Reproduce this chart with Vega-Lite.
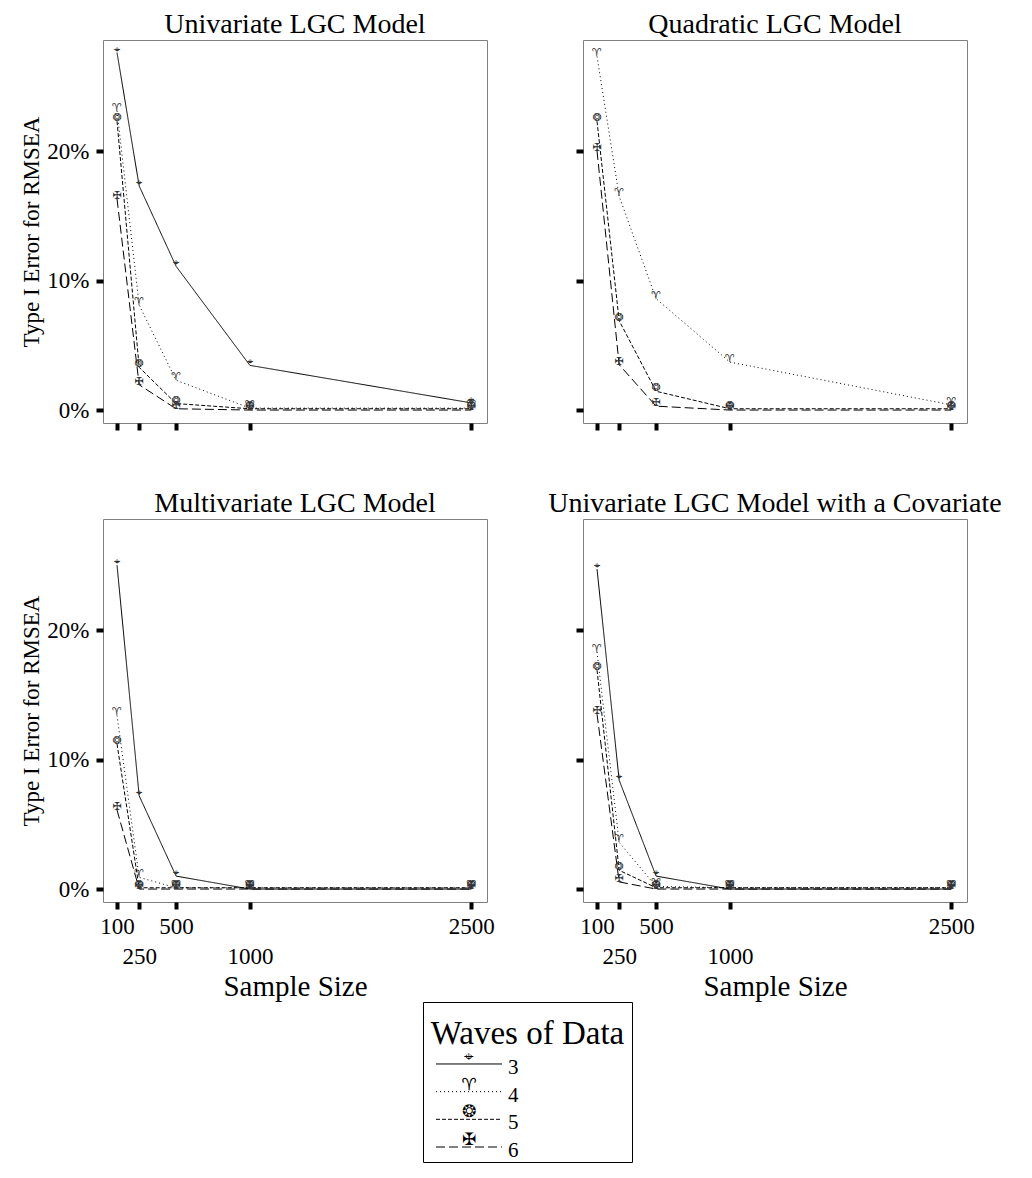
{
  "$schema": "https://vega.github.io/schema/vega-lite/v6.json",
  "autosize": {"type": "pad"},
  "padding": {"left": 20, "top": 10, "right": 2, "bottom": 2},
  "background": "white",
  "config": {
    "font": "Liberation Serif",
    "view": {"stroke": "#7f7f7f", "strokeWidth": 1},
    "axis": {
      "grid": false, "domain": false, "tickColor": "black", "tickWidth": 4, "tickSize": 7,
      "labelFont": "Liberation Serif", "labelFontSize": 23, "labelColor": "black",
      "titleFont": "Liberation Serif", "titleFontSize": 23, "titleFontWeight": "normal", "titleColor": "black",
      "labelOverlap": false, "labelFlush": false
    },
    "title": {"font": "Liberation Serif", "fontSize": 28, "fontWeight": "normal", "color": "black", "offset": 1, "anchor": "middle", "frame": "group", "baseline": "alphabetic"}
  },
  "datasets": {
    "sim": [
      {"model": "Univariate LGC Model", "wave": "3", "n": 100, "rate": 27.6},
      {"model": "Univariate LGC Model", "wave": "3", "n": 250, "rate": 17.3},
      {"model": "Univariate LGC Model", "wave": "3", "n": 500, "rate": 11.1},
      {"model": "Univariate LGC Model", "wave": "3", "n": 1000, "rate": 3.45},
      {"model": "Univariate LGC Model", "wave": "3", "n": 2500, "rate": 0.55},
      {"model": "Univariate LGC Model", "wave": "4", "n": 100, "rate": 23.1},
      {"model": "Univariate LGC Model", "wave": "4", "n": 250, "rate": 8.1},
      {"model": "Univariate LGC Model", "wave": "4", "n": 500, "rate": 2.3},
      {"model": "Univariate LGC Model", "wave": "4", "n": 1000, "rate": 0.15},
      {"model": "Univariate LGC Model", "wave": "4", "n": 2500, "rate": 0.15},
      {"model": "Univariate LGC Model", "wave": "5", "n": 100, "rate": 22.3},
      {"model": "Univariate LGC Model", "wave": "5", "n": 250, "rate": 3.3},
      {"model": "Univariate LGC Model", "wave": "5", "n": 500, "rate": 0.5},
      {"model": "Univariate LGC Model", "wave": "5", "n": 1000, "rate": 0.1},
      {"model": "Univariate LGC Model", "wave": "5", "n": 2500, "rate": 0.1},
      {"model": "Univariate LGC Model", "wave": "6", "n": 100, "rate": 16.3},
      {"model": "Univariate LGC Model", "wave": "6", "n": 250, "rate": 1.95},
      {"model": "Univariate LGC Model", "wave": "6", "n": 500, "rate": 0.1},
      {"model": "Univariate LGC Model", "wave": "6", "n": 1000, "rate": 0.0},
      {"model": "Univariate LGC Model", "wave": "6", "n": 2500, "rate": 0.0},
      {"model": "Quadratic LGC Model", "wave": "4", "n": 100, "rate": 27.3},
      {"model": "Quadratic LGC Model", "wave": "4", "n": 250, "rate": 16.5},
      {"model": "Quadratic LGC Model", "wave": "4", "n": 500, "rate": 8.6},
      {"model": "Quadratic LGC Model", "wave": "4", "n": 1000, "rate": 3.7},
      {"model": "Quadratic LGC Model", "wave": "4", "n": 2500, "rate": 0.4},
      {"model": "Quadratic LGC Model", "wave": "5", "n": 100, "rate": 22.3},
      {"model": "Quadratic LGC Model", "wave": "5", "n": 250, "rate": 6.9},
      {"model": "Quadratic LGC Model", "wave": "5", "n": 500, "rate": 1.45},
      {"model": "Quadratic LGC Model", "wave": "5", "n": 1000, "rate": 0.1},
      {"model": "Quadratic LGC Model", "wave": "5", "n": 2500, "rate": 0.1},
      {"model": "Quadratic LGC Model", "wave": "6", "n": 100, "rate": 20.0},
      {"model": "Quadratic LGC Model", "wave": "6", "n": 250, "rate": 3.5},
      {"model": "Quadratic LGC Model", "wave": "6", "n": 500, "rate": 0.3},
      {"model": "Quadratic LGC Model", "wave": "6", "n": 1000, "rate": 0.0},
      {"model": "Quadratic LGC Model", "wave": "6", "n": 2500, "rate": 0.0},
      {"model": "Multivariate LGC Model", "wave": "3", "n": 100, "rate": 25.0},
      {"model": "Multivariate LGC Model", "wave": "3", "n": 250, "rate": 7.2},
      {"model": "Multivariate LGC Model", "wave": "3", "n": 500, "rate": 1.0},
      {"model": "Multivariate LGC Model", "wave": "3", "n": 1000, "rate": 0.0},
      {"model": "Multivariate LGC Model", "wave": "3", "n": 2500, "rate": 0.0},
      {"model": "Multivariate LGC Model", "wave": "4", "n": 100, "rate": 13.4},
      {"model": "Multivariate LGC Model", "wave": "4", "n": 250, "rate": 0.9},
      {"model": "Multivariate LGC Model", "wave": "4", "n": 500, "rate": 0.1},
      {"model": "Multivariate LGC Model", "wave": "4", "n": 1000, "rate": 0.1},
      {"model": "Multivariate LGC Model", "wave": "4", "n": 2500, "rate": 0.1},
      {"model": "Multivariate LGC Model", "wave": "5", "n": 100, "rate": 11.2},
      {"model": "Multivariate LGC Model", "wave": "5", "n": 250, "rate": 0.1},
      {"model": "Multivariate LGC Model", "wave": "5", "n": 500, "rate": 0.1},
      {"model": "Multivariate LGC Model", "wave": "5", "n": 1000, "rate": 0.1},
      {"model": "Multivariate LGC Model", "wave": "5", "n": 2500, "rate": 0.1},
      {"model": "Multivariate LGC Model", "wave": "6", "n": 100, "rate": 6.1},
      {"model": "Multivariate LGC Model", "wave": "6", "n": 250, "rate": 0.0},
      {"model": "Multivariate LGC Model", "wave": "6", "n": 500, "rate": 0.0},
      {"model": "Multivariate LGC Model", "wave": "6", "n": 1000, "rate": 0.0},
      {"model": "Multivariate LGC Model", "wave": "6", "n": 2500, "rate": 0.0},
      {"model": "Univariate LGC Model with a Covariate", "wave": "3", "n": 100, "rate": 24.7},
      {"model": "Univariate LGC Model with a Covariate", "wave": "3", "n": 250, "rate": 8.4},
      {"model": "Univariate LGC Model with a Covariate", "wave": "3", "n": 500, "rate": 1.0},
      {"model": "Univariate LGC Model with a Covariate", "wave": "3", "n": 1000, "rate": 0.0},
      {"model": "Univariate LGC Model with a Covariate", "wave": "3", "n": 2500, "rate": 0.0},
      {"model": "Univariate LGC Model with a Covariate", "wave": "4", "n": 100, "rate": 18.3},
      {"model": "Univariate LGC Model with a Covariate", "wave": "4", "n": 250, "rate": 3.6},
      {"model": "Univariate LGC Model with a Covariate", "wave": "4", "n": 500, "rate": 0.2},
      {"model": "Univariate LGC Model with a Covariate", "wave": "4", "n": 1000, "rate": 0.1},
      {"model": "Univariate LGC Model with a Covariate", "wave": "4", "n": 2500, "rate": 0.1},
      {"model": "Univariate LGC Model with a Covariate", "wave": "5", "n": 100, "rate": 16.9},
      {"model": "Univariate LGC Model with a Covariate", "wave": "5", "n": 250, "rate": 1.45},
      {"model": "Univariate LGC Model with a Covariate", "wave": "5", "n": 500, "rate": 0.1},
      {"model": "Univariate LGC Model with a Covariate", "wave": "5", "n": 1000, "rate": 0.1},
      {"model": "Univariate LGC Model with a Covariate", "wave": "5", "n": 2500, "rate": 0.1},
      {"model": "Univariate LGC Model with a Covariate", "wave": "6", "n": 100, "rate": 13.5},
      {"model": "Univariate LGC Model with a Covariate", "wave": "6", "n": 250, "rate": 0.55},
      {"model": "Univariate LGC Model with a Covariate", "wave": "6", "n": 500, "rate": 0.0},
      {"model": "Univariate LGC Model with a Covariate", "wave": "6", "n": 1000, "rate": 0.0},
      {"model": "Univariate LGC Model with a Covariate", "wave": "6", "n": 2500, "rate": 0.0}
    ],
    "legend": [
      {"wave": "3"}, {"wave": "4"}, {"wave": "5"}, {"wave": "6"}
    ]
  },
  "vconcat": [
    {
      "vconcat": [
        {
          "bounds": "flush",
          "hconcat": [
            {
              "width": 384, "height": 383,
              "title": "Univariate LGC Model",
              "data": {"name": "sim"},
              "transform": [{"filter": "datum.model == 'Univariate LGC Model'"}],
              "encoding": {
                "x": {"field": "n", "type": "quantitative", "scale": {"domain": [5, 2606], "nice": false, "zero": false},
                      "axis": {"values": [100, 250, 500, 1000, 2500], "labels": false, "title": null}},
                "y": {"field": "rate", "type": "quantitative", "scale": {"domain": [-1, 28.57], "nice": false, "zero": false},
                      "axis": {"values": [0, 10, 20], "labelExpr": "datum.value + '%'", "title": "Type I Error for RMSEA", "labelPadding": 7, "titlePadding": 3}}
              },
              "layer": [
                {"mark": {"type": "line", "color": "black", "strokeWidth": 1},
                 "encoding": {"strokeDash": {"field": "wave", "type": "nominal", "scale": {"domain": ["3", "4", "5", "6"], "range": [[1, 0], [1, 3], [4, 2], [9, 4]]}, "legend": null}}},
                {"mark": {"type": "text", "font": "DejaVu Sans", "fontSize": 11, "color": "#333333", "dy": -3},
                 "encoding": {"text": {"condition": [{"test": "datum.wave == '3'", "value": "⌖"}, {"test": "datum.wave == '4'", "value": "♈"}, {"test": "datum.wave == '5'", "value": "❂"}], "value": "✠"}}}
              ]
            },
            {
              "width": 384, "height": 383,
              "title": "Quadratic LGC Model",
              "data": {"name": "sim"},
              "transform": [{"filter": "datum.model == 'Quadratic LGC Model'"}],
              "encoding": {
                "x": {"field": "n", "type": "quantitative", "scale": {"domain": [5, 2606], "nice": false, "zero": false},
                      "axis": {"values": [100, 250, 500, 1000, 2500], "labels": false, "title": null}},
                "y": {"field": "rate", "type": "quantitative", "scale": {"domain": [-1, 28.57], "nice": false, "zero": false},
                      "axis": {"values": [0, 10, 20], "labels": false, "title": null}}
              },
              "layer": [
                {"mark": {"type": "line", "color": "black", "strokeWidth": 1},
                 "encoding": {"strokeDash": {"field": "wave", "type": "nominal", "scale": {"domain": ["3", "4", "5", "6"], "range": [[1, 0], [1, 3], [4, 2], [9, 4]]}, "legend": null}}},
                {"mark": {"type": "text", "font": "DejaVu Sans", "fontSize": 11, "color": "#333333", "dy": -3},
                 "encoding": {"text": {"condition": [{"test": "datum.wave == '3'", "value": "⌖"}, {"test": "datum.wave == '4'", "value": "♈"}, {"test": "datum.wave == '5'", "value": "❂"}], "value": "✠"}}}
              ]
            }
          ],
          "spacing": 96
        },
        {
          "bounds": "flush",
          "hconcat": [
            {
              "width": 384, "height": 383,
              "title": "Multivariate LGC Model",
              "data": {"name": "sim"},
              "transform": [{"filter": "datum.model == 'Multivariate LGC Model'"}],
              "encoding": {
                "x": {"field": "n", "type": "quantitative", "scale": {"domain": [5, 2606], "nice": false, "zero": false},
                      "axis": {"values": [100, 250, 500, 1000, 2500], "format": "d", "title": "Sample Size", "titleFontSize": 29, "labelExpr": "(datum.value == 250 || datum.value == 1000) ? ['', datum.label] : datum.label", "labelLineHeight": 30, "labelPadding": 6, "titlePadding": 4}},
                "y": {"field": "rate", "type": "quantitative", "scale": {"domain": [-1, 28.57], "nice": false, "zero": false},
                      "axis": {"values": [0, 10, 20], "labelExpr": "datum.value + '%'", "title": "Type I Error for RMSEA", "labelPadding": 7, "titlePadding": 3}}
              },
              "layer": [
                {"mark": {"type": "line", "color": "black", "strokeWidth": 1},
                 "encoding": {"strokeDash": {"field": "wave", "type": "nominal", "scale": {"domain": ["3", "4", "5", "6"], "range": [[1, 0], [1, 3], [4, 2], [9, 4]]}, "legend": null}}},
                {"mark": {"type": "text", "font": "DejaVu Sans", "fontSize": 11, "color": "#333333", "dy": -3},
                 "encoding": {"text": {"condition": [{"test": "datum.wave == '3'", "value": "⌖"}, {"test": "datum.wave == '4'", "value": "♈"}, {"test": "datum.wave == '5'", "value": "❂"}], "value": "✠"}}}
              ]
            },
            {
              "width": 384, "height": 383,
              "title": "Univariate LGC Model with a Covariate",
              "data": {"name": "sim"},
              "transform": [{"filter": "datum.model == 'Univariate LGC Model with a Covariate'"}],
              "encoding": {
                "x": {"field": "n", "type": "quantitative", "scale": {"domain": [5, 2606], "nice": false, "zero": false},
                      "axis": {"values": [100, 250, 500, 1000, 2500], "format": "d", "title": "Sample Size", "titleFontSize": 29, "labelExpr": "(datum.value == 250 || datum.value == 1000) ? ['', datum.label] : datum.label", "labelLineHeight": 30, "labelPadding": 6, "titlePadding": 4}},
                "y": {"field": "rate", "type": "quantitative", "scale": {"domain": [-1, 28.57], "nice": false, "zero": false},
                      "axis": {"values": [0, 10, 20], "labels": false, "title": null}}
              },
              "layer": [
                {"mark": {"type": "line", "color": "black", "strokeWidth": 1},
                 "encoding": {"strokeDash": {"field": "wave", "type": "nominal", "scale": {"domain": ["3", "4", "5", "6"], "range": [[1, 0], [1, 3], [4, 2], [9, 4]]}, "legend": null}}},
                {"mark": {"type": "text", "font": "DejaVu Sans", "fontSize": 11, "color": "#333333", "dy": -3},
                 "encoding": {"text": {"condition": [{"test": "datum.wave == '3'", "value": "⌖"}, {"test": "datum.wave == '4'", "value": "♈"}, {"test": "datum.wave == '5'", "value": "❂"}], "value": "✠"}}}
              ]
            }
          ],
          "spacing": 96
        }
      ],
      "spacing": 56
    },
    {
      "bounds": "flush",
      "hconcat": [
        {"width": 320, "height": 10, "data": {"values": []}, "mark": "point", "view": {"stroke": null}},
        {
          "width": 209, "height": 160,
          "view": {"stroke": "black", "strokeWidth": 1},
          "data": {"name": "legend"},
          "encoding": {
            "y": {"field": "wave", "type": "ordinal", "scale": {"type": "point", "domain": ["title", "3", "4", "5", "6"], "range": [34.3, 145], "padding": 0}, "axis": null}
          },
          "layer": [
            {"mark": {"type": "rule", "color": "black", "strokeWidth": 1},
             "encoding": {
               "x": {"datum": 13, "type": "quantitative", "scale": {"domain": [0, 209], "nice": false, "zero": false}, "axis": null},
               "x2": {"datum": 79},
               "strokeDash": {"field": "wave", "type": "nominal", "scale": {"domain": ["3", "4", "5", "6"], "range": [[1, 0], [1, 3], [4, 2], [9, 4]]}, "legend": null}}},
            {"mark": {"type": "text", "font": "DejaVu Sans", "fontSize": 17, "color": "black", "baseline": "bottom", "dy": 2},
             "encoding": {
               "x": {"datum": 46, "type": "quantitative"},
               "text": {"condition": [{"test": "datum.wave == '3'", "value": "⌖"}, {"test": "datum.wave == '4'", "value": "♈"}, {"test": "datum.wave == '5'", "value": "❂"}], "value": "✠"}}},
            {"mark": {"type": "text", "font": "Liberation Serif", "fontSize": 21, "color": "black", "align": "left", "baseline": "middle", "dy": 4},
             "encoding": {
               "x": {"datum": 85, "type": "quantitative"},
               "text": {"field": "wave"}}},
            {"transform": [{"filter": "datum.wave == '3'"}],
             "mark": {"type": "text", "font": "Liberation Serif", "fontSize": 33, "color": "black", "align": "center", "baseline": "alphabetic", "dy": 8},
             "encoding": {
               "x": {"datum": 104.5, "type": "quantitative"},
               "y": {"datum": "title"},
               "text": {"value": "Waves of Data"}}}
          ]
        }
      ],
      "spacing": 0
    }
  ],
  "spacing": -19
}
